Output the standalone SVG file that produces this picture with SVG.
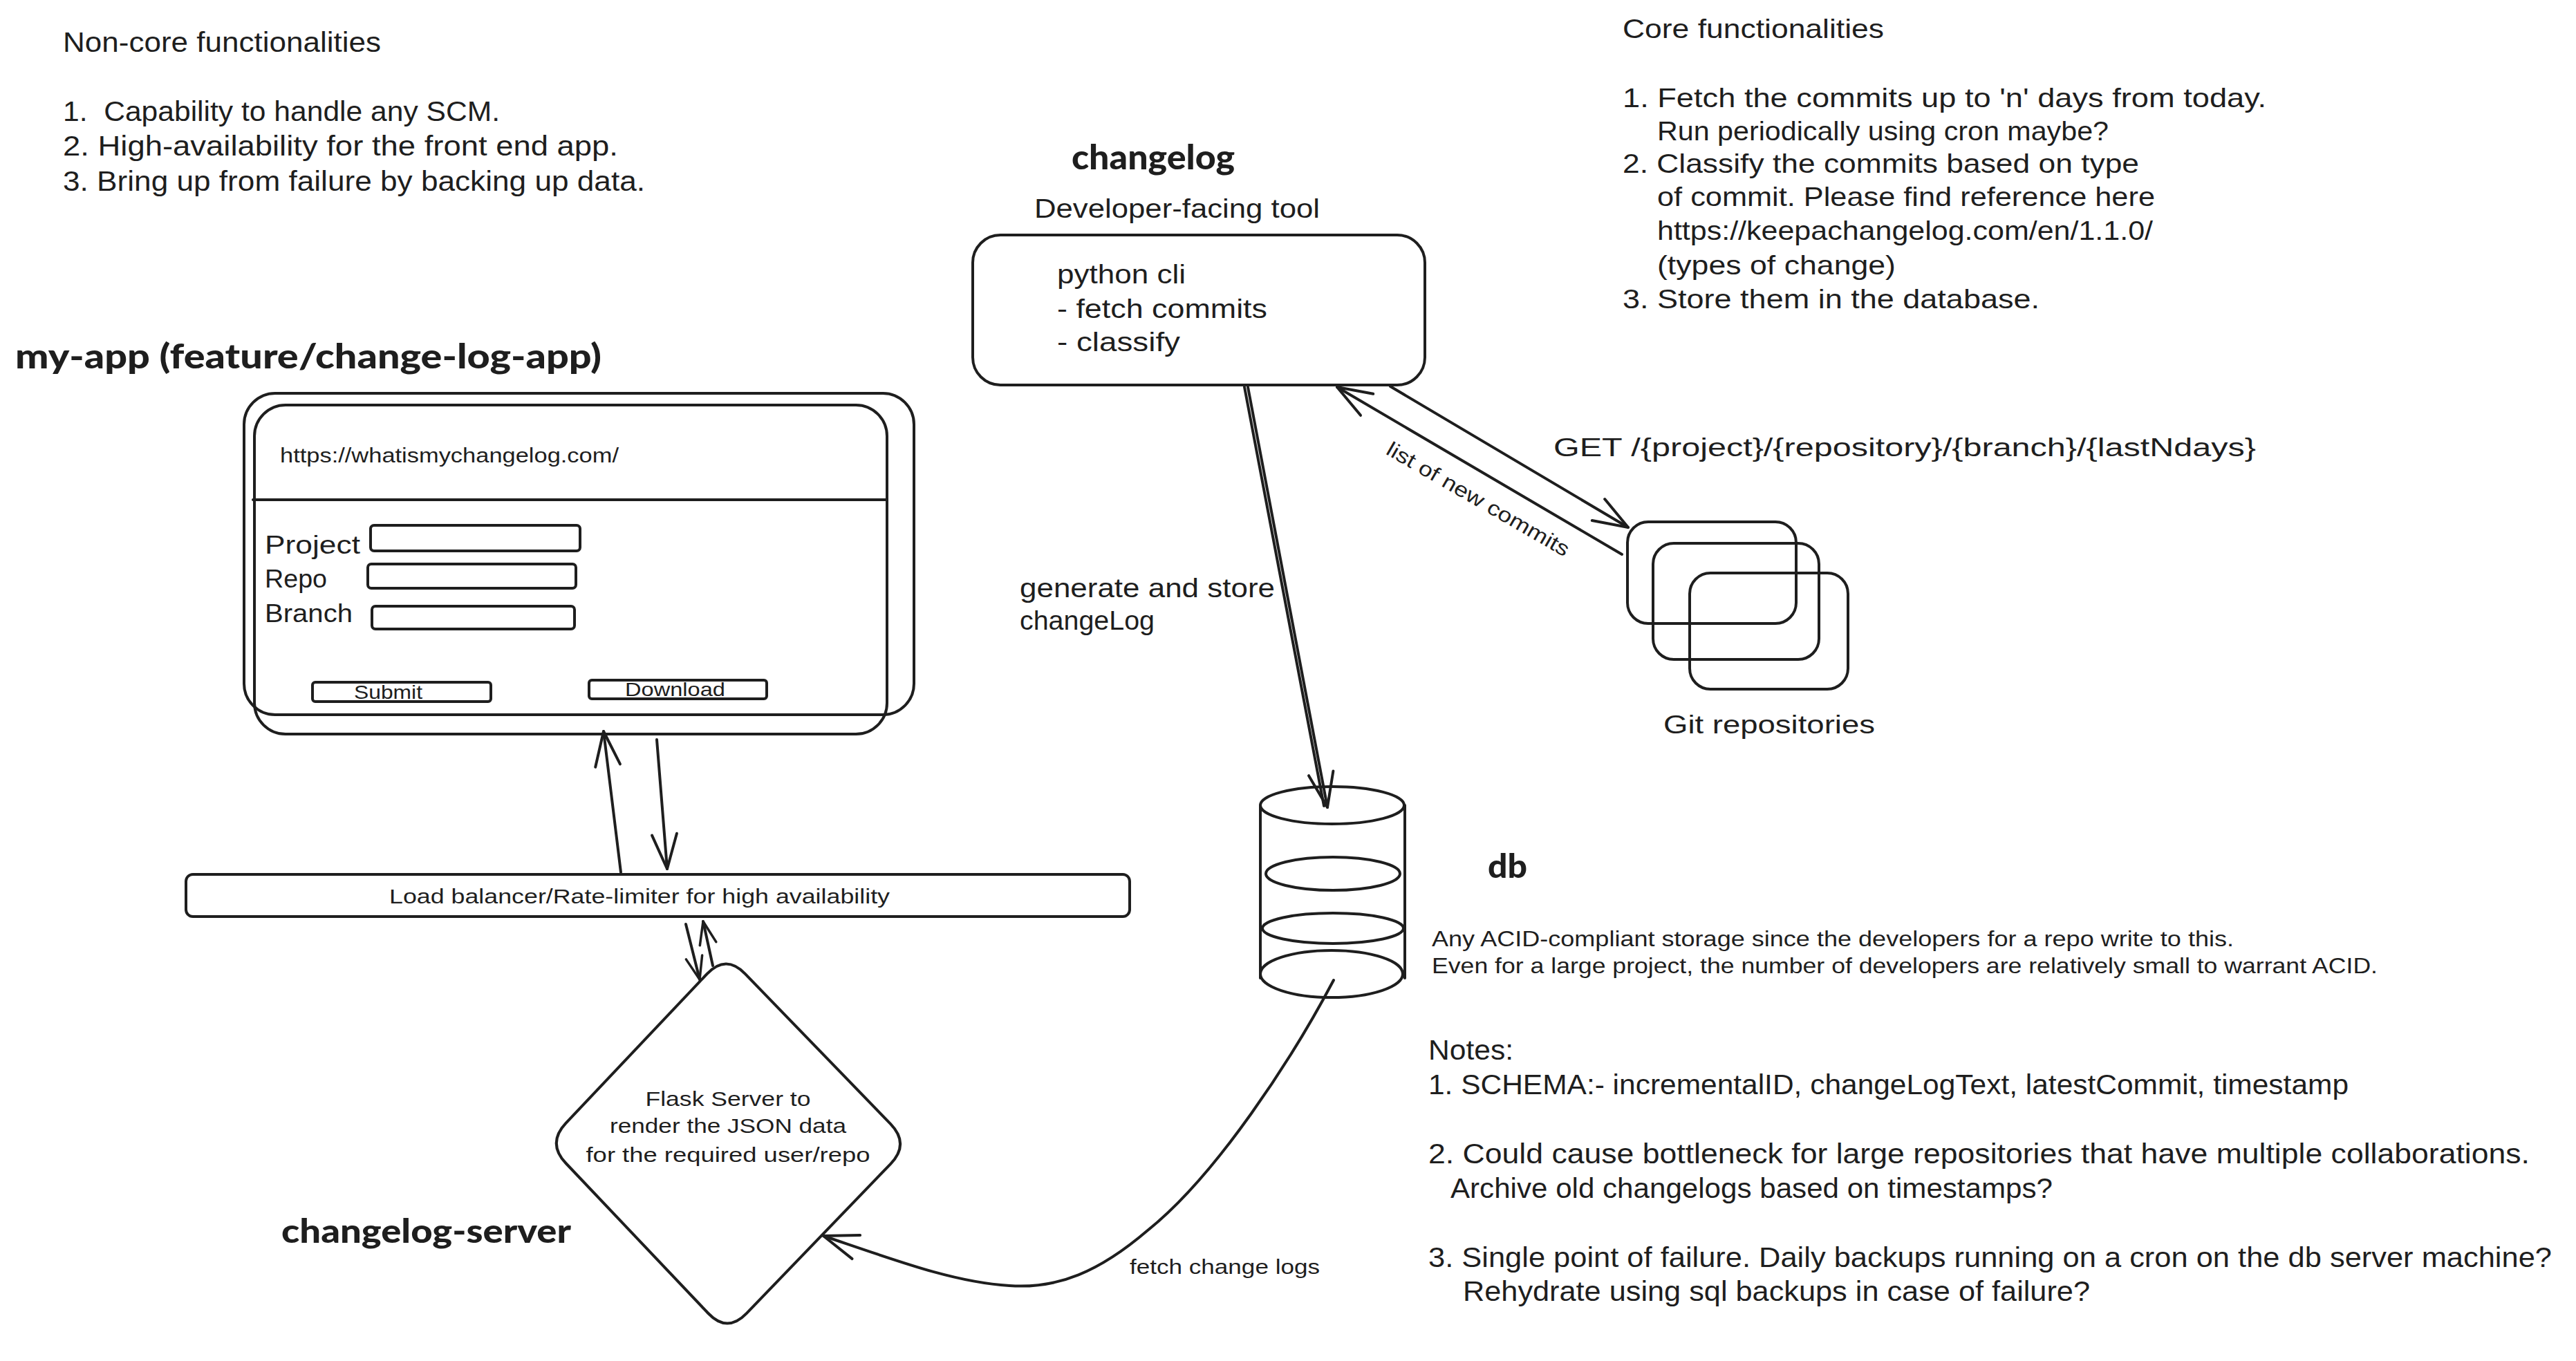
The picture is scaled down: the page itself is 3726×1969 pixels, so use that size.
<svg xmlns="http://www.w3.org/2000/svg" width="3726" height="1969" viewBox="0 0 3726 1969">
<style>
.s{fill:none;stroke:#1e1e1e;stroke-width:4;stroke-linecap:round;stroke-linejoin:round}
.t{font-family:"Liberation Sans","DejaVu Sans",sans-serif;fill:#1e1e1e}
.b{font-family:Lato,Roboto,"Liberation Sans",sans-serif;font-weight:900;fill:#1e1e1e}
.c{stroke:#1e1e1e;stroke-width:4;fill:none;stroke-linecap:round}
</style>
<defs>
<marker id="ah" markerUnits="userSpaceOnUse" markerWidth="70" markerHeight="60" viewBox="-60 -30 70 60" refX="0" refY="0" orient="auto"><path d="M-50,-18 L0,0 L-50,18" fill="none" stroke="#1e1e1e" stroke-width="4" stroke-linecap="round" stroke-linejoin="round"/></marker>
<marker id="ahs" markerUnits="userSpaceOnUse" markerWidth="48" markerHeight="40" viewBox="-40 -20 48 40" refX="0" refY="0" orient="auto"><path d="M-33,-12 L0,0 L-33,12" fill="none" stroke="#1e1e1e" stroke-width="3.5" stroke-linecap="round" stroke-linejoin="round"/></marker>
</defs>
<rect width="3726" height="1969" fill="#ffffff"/>

<g id="noncore-notes" class="t" font-size="40">
<text x="91" y="75" textLength="460" lengthAdjust="spacingAndGlyphs">Non-core functionalities</text>
<text x="91" y="175" textLength="632" lengthAdjust="spacingAndGlyphs" style="white-space:pre">1.  Capability to handle any SCM.</text>
<text x="91" y="225" textLength="803" lengthAdjust="spacingAndGlyphs">2. High-availability for the front end app.</text>
<text x="91" y="276" textLength="842" lengthAdjust="spacingAndGlyphs">3. Bring up from failure by backing up data.</text>
</g>

<g id="core-notes" class="t" font-size="39">
<text x="2347" y="55" textLength="378" lengthAdjust="spacingAndGlyphs">Core functionalities</text>
<text x="2347" y="155" textLength="931" lengthAdjust="spacingAndGlyphs">1. Fetch the commits up to 'n' days from today.</text>
<text x="2397" y="203" textLength="653" lengthAdjust="spacingAndGlyphs">Run periodically using cron maybe?</text>
<text x="2347" y="250" textLength="747" lengthAdjust="spacingAndGlyphs">2. Classify the commits based on type</text>
<text x="2397" y="298" textLength="720" lengthAdjust="spacingAndGlyphs">of commit. Please find reference here</text>
<text x="2397" y="347" textLength="717" lengthAdjust="spacingAndGlyphs">https://keepachangelog.com/en/1.1.0/</text>
<text x="2397" y="397" textLength="345" lengthAdjust="spacingAndGlyphs">(types of change)</text>
<text x="2347" y="446" textLength="603" lengthAdjust="spacingAndGlyphs">3. Store them in the database.</text>
</g>

<g id="changelog-tool">
<text class="b" x="1550" y="245" font-size="50" textLength="236" lengthAdjust="spacingAndGlyphs">changelog</text>
<text class="t" x="1496" y="315" font-size="38" textLength="413" lengthAdjust="spacingAndGlyphs">Developer-facing tool</text>
<rect class="s" x="1407" y="340" width="654" height="217" rx="40"/>
<text class="t" x="1529" y="410" font-size="38" textLength="186" lengthAdjust="spacingAndGlyphs">python cli</text>
<text class="t" x="1529" y="460" font-size="38" textLength="304" lengthAdjust="spacingAndGlyphs">- fetch commits</text>
<text class="t" x="1529" y="508" font-size="38" textLength="178" lengthAdjust="spacingAndGlyphs">- classify</text>
</g>

<g id="my-app">
<text class="b" x="22" y="533" font-size="50" textLength="848" lengthAdjust="spacingAndGlyphs">my-app (feature/change-log-app)</text>
<rect class="s" x="353" y="569" width="969" height="465" rx="45"/>
<rect class="s" x="368" y="586" width="915" height="476" rx="45"/>
<text class="t" x="405" y="669" font-size="30" textLength="490" lengthAdjust="spacingAndGlyphs">https://whatismychangelog.com/</text>
<line class="s" x1="366" y1="723" x2="1283" y2="723" stroke-width="6"/>
<text class="t" x="383" y="801" font-size="36" textLength="138" lengthAdjust="spacingAndGlyphs">Project</text>
<text class="t" x="383" y="850" font-size="36" textLength="90" lengthAdjust="spacingAndGlyphs">Repo</text>
<text class="t" x="383" y="900" font-size="36" textLength="127" lengthAdjust="spacingAndGlyphs">Branch</text>
<rect class="s" x="536" y="760" width="303" height="37" rx="5" stroke-width="5"/>
<rect class="s" x="532" y="816" width="301" height="35" rx="5" stroke-width="5"/>
<rect class="s" x="538" y="877" width="293" height="33" rx="5" stroke-width="5"/>
<rect class="s" x="452" y="987" width="258" height="28" rx="4" stroke-width="3.5"/>
<text class="t" x="512" y="1011" font-size="28" textLength="99" lengthAdjust="spacingAndGlyphs">Submit</text>
<rect class="s" x="852" y="984" width="257" height="27" rx="4" stroke-width="3.5"/>
<text class="t" x="904" y="1007" font-size="28" textLength="145" lengthAdjust="spacingAndGlyphs">Download</text>
</g>

<g id="load-balancer">
<rect class="s" x="269" y="1265" width="1365" height="61" rx="10"/>
<text class="t" x="563" y="1307" font-size="30" textLength="724" lengthAdjust="spacingAndGlyphs">Load balancer/Rate-limiter for high availability</text>
</g>

<g id="changelog-server">
<path class="s" d="M1022.5,1409.1 Q1050,1380 1077.8,1408.8 L1288.2,1626.2 Q1316,1655 1288.2,1683.8 L1079.8,1900.2 Q1052,1929 1024.4,1900 L818.6,1683 Q791,1654 818.5,1624.9 Z"/>
<g class="t" font-size="30" text-anchor="middle">
<text x="1053" y="1600" textLength="239" lengthAdjust="spacingAndGlyphs">Flask Server to</text>
<text x="1053" y="1639" textLength="342" lengthAdjust="spacingAndGlyphs">render the JSON data</text>
<text x="1053" y="1681" textLength="411" lengthAdjust="spacingAndGlyphs">for the required user/repo</text>
</g>
<text class="b" x="407" y="1798" font-size="48" textLength="419" lengthAdjust="spacingAndGlyphs">changelog-server</text>
</g>

<g id="db">
<line class="s" x1="1823" y1="1165" x2="1823" y2="1415"/>
<line class="s" x1="2032" y1="1165" x2="2032" y2="1415"/>
<ellipse class="s" cx="1927" cy="1165" rx="104" ry="27"/>
<ellipse class="s" cx="1928" cy="1264" rx="97" ry="24"/>
<ellipse class="s" cx="1928" cy="1343" rx="102" ry="22"/>
<ellipse class="s" cx="1926" cy="1409" rx="103" ry="34"/>
<text class="b" x="2152" y="1270" font-size="48" textLength="57" lengthAdjust="spacingAndGlyphs">db</text>
<text class="t" x="2071" y="1369" font-size="32" textLength="1160" lengthAdjust="spacingAndGlyphs">Any ACID-compliant storage since the developers for a repo write to this.</text>
<text class="t" x="2071" y="1408" font-size="32" textLength="1368" lengthAdjust="spacingAndGlyphs">Even for a large project, the number of developers are relatively small to warrant ACID.</text>
</g>

<g id="db-notes" class="t" font-size="40">
<text x="2066" y="1533" textLength="123" lengthAdjust="spacingAndGlyphs">Notes:</text>
<text x="2066" y="1583" textLength="1331" lengthAdjust="spacingAndGlyphs">1. SCHEMA:- incrementalID, changeLogText, latestCommit, timestamp</text>
<text x="2066" y="1683" textLength="1593" lengthAdjust="spacingAndGlyphs">2. Could cause bottleneck for large repositories that have multiple collaborations.</text>
<text x="2098" y="1733" textLength="871" lengthAdjust="spacingAndGlyphs">Archive old changelogs based on timestamps?</text>
<text x="2066" y="1833" textLength="1625" lengthAdjust="spacingAndGlyphs">3. Single point of failure. Daily backups running on a cron on the db server machine?</text>
<text x="2116" y="1882" textLength="907" lengthAdjust="spacingAndGlyphs">Rehydrate using sql backups in case of failure?</text>
</g>

<g id="git-repos">
<rect class="s" x="2354" y="755" width="244" height="147" rx="30"/>
<rect class="s" x="2391" y="786" width="240" height="168" rx="30"/>
<rect class="s" x="2444" y="829" width="229" height="168" rx="30"/>
<text class="t" x="2406" y="1061" font-size="36" textLength="306" lengthAdjust="spacingAndGlyphs">Git repositories</text>
</g>

<g id="connectors">
<line class="c" x1="898" y1="1262" x2="873" y2="1058" marker-end="url(#ah)"/>
<line class="c" x1="950" y1="1070" x2="965" y2="1257" marker-end="url(#ah)"/>
<line class="c" x1="992" y1="1337" x2="1012" y2="1417" stroke-width="3.5" marker-end="url(#ahs)"/>
<line class="c" x1="1031" y1="1397" x2="1017" y2="1333" stroke-width="3.5" marker-end="url(#ahs)"/>
<line class="c" x1="1800" y1="560" x2="1915" y2="1166" stroke-width="3"/>
<line class="c" x1="1805" y1="560" x2="1920" y2="1168" stroke-width="3" marker-end="url(#ah)"/>
<line class="c" x1="2011" y1="559" x2="2355" y2="763" marker-end="url(#ah)"/>
<line class="c" x1="2346" y1="802" x2="1934" y2="560" stroke-width="5" marker-end="url(#ah)"/>
<path class="c" d="M1929,1418 C1870,1530 1760,1700 1660,1780 C1590,1840 1530,1865 1460,1860 C1380,1855 1300,1825 1191,1788" marker-end="url(#ah)"/>
</g>

<g id="connector-labels" class="t">
<text x="1475" y="864" font-size="38" textLength="369" lengthAdjust="spacingAndGlyphs">generate and store</text>
<text x="1475" y="911" font-size="38" textLength="195" lengthAdjust="spacingAndGlyphs">changeLog</text>
<text x="2247" y="660" font-size="36" textLength="1016" lengthAdjust="spacingAndGlyphs">GET /{project}/{repository}/{branch}/{lastNdays}</text>
<text x="2133" y="731" font-size="30" text-anchor="middle" textLength="300" lengthAdjust="spacingAndGlyphs" transform="rotate(30 2133 731)">list of new commits</text>
<text x="1634" y="1843" font-size="30" textLength="275" lengthAdjust="spacingAndGlyphs">fetch change logs</text>
</g>
</svg>
